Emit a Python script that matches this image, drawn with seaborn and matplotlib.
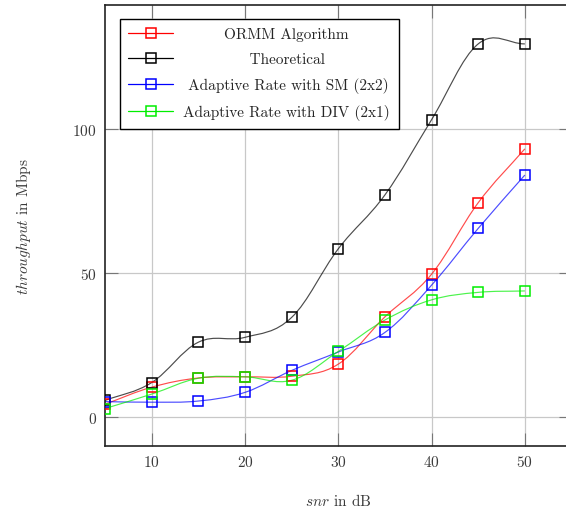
import numpy as np
import pandas as pd
import seaborn as sns
import matplotlib
matplotlib.use("Agg")
import matplotlib.pyplot as plt
from matplotlib.path import Path
from matplotlib.patches import PathPatch
from matplotlib.lines import Line2D

# ---- data ----
snr = [5, 10, 15, 20, 25, 30, 35, 40, 45, 50]
ormm = [4.5, 10.4, 13.6, 14.0, 14.2, 18.4, 34.8, 49.6, 74.4, 93.1]
theoretical = [5.8, 12.0, 26.0, 27.7, 34.6, 58.4, 77.1, 103.2, 129.5, 129.5]
adaptive_sm = [5.4, 5.2, 5.6, 8.6, 16.2, 22.6, 29.4, 45.8, 65.5, 84.0]
adaptive_div = [3.0, 8.0, 13.5, 14.0, 12.8, 22.8, 33.7, 40.7, 43.3, 43.8]
series_names = ["ORMM Algorithm", "Theoretical",
                "Adaptive Rate with SM (2x2)", "Adaptive Rate with DIV (2x1)"]
series_values = [ormm, theoretical, adaptive_sm, adaptive_div]
series_colors = ["#ff0000", "#000000", "#0000ff", "#00ee00"]
x_ticks = [10, 20, 30, 40, 50]
y_ticks = [0, 50, 100]

df = pd.DataFrame({
    "snr": snr * len(series_names),
    "throughput": sum(series_values, []),
    "series": sum([[n] * len(snr) for n in series_names], []),
})

sns.set_theme(style="ticks")
plt.rcParams["font.family"] = ["cmr10", "DejaVu Serif"]
plt.rcParams["mathtext.fontset"] = "cm"
plt.rcParams["axes.formatter.use_mathtext"] = True

W, H = 566, 510
fig = plt.figure(figsize=(W / 100, H / 100), dpi=100)
ax = fig.add_axes([105 / W, 1 - 447 / H, 466.5 / W, 441 / H])


def smooth_path(xs, ys, k=0.18):
    pts = np.column_stack([xs, ys]).astype(float)
    n = len(pts)
    tang = np.zeros_like(pts)
    for i in range(n):
        a = pts[max(i - 1, 0)]
        b = pts[min(i + 1, n - 1)]
        scale = k if 0 < i < n - 1 else 2 * k
        tang[i] = (b - a) * scale
    verts = [pts[0]]
    codes = [Path.MOVETO]
    for i in range(n - 1):
        verts += [pts[i] + tang[i], pts[i + 1] - tang[i + 1], pts[i + 1]]
        codes += [Path.CURVE4] * 3
    return Path(verts, codes)


for name, color in zip(series_names, series_colors):
    sub = df[df["series"] == name]
    ax.add_patch(PathPatch(smooth_path(sub["snr"].values, sub["throughput"].values),
                           facecolor="none", edgecolor=color, lw=0.85, alpha=0.7,
                           zorder=2))
    sns.lineplot(data=sub, x="snr", y="throughput", ax=ax, color=color,
                 linestyle="", marker="s", markersize=7.5, markerfacecolor="none",
                 markeredgecolor=color, markeredgewidth=1.1, zorder=3)

ax.set_xlim(5, 55)
ax.set_ylim(-10, 143)
ax.set_xticks(x_ticks)
ax.set_yticks(y_ticks)
ax.grid(True, color="#c8c8c8", lw=0.9)
ax.set_axisbelow(True)
for s in ax.spines.values():
    s.set_color("#222222")
    s.set_linewidth(1.2)
ax.tick_params(direction="in", length=9.5, width=0.8, top=True, right=True,
               labelsize=11, labelcolor="#3a3a3a", color="#777777", pad=6)
ax.set_xlabel(r"$snr$ in dB", fontsize=11, color="#3a3a3a", labelpad=16)
ax.set_ylabel(r"$throughput$ in Mbps", fontsize=11, color="#3a3a3a", labelpad=28)

handles = [Line2D([], [], color=c, lw=0.9, alpha=1, marker="s", markersize=7.5,
                  markerfacecolor="none", markeredgecolor=c, markeredgewidth=1.1)
           for c in series_colors]


def make_legend(labels):
    return ax.legend(handles, labels, loc="upper left",
                     bbox_to_anchor=(120 / W, 1 - 20 / H),
                     bbox_transform=fig.transFigure, fancybox=False,
                     edgecolor="black", framealpha=1, fontsize=11,
                     handlelength=2.9, handletextpad=0.7, labelspacing=0.72,
                     borderpad=0.55, borderaxespad=0)


leg = make_legend(series_names)
fig.canvas.draw()
r = fig.canvas.get_renderer()
widths = [t.get_window_extent(r).width for t in leg.get_texts()]
sp = ax.text(0, 0, "a a", fontsize=11)
sp_w = sp.get_window_extent(r).width
sp.set_text("aa")
sp_w -= sp.get_window_extent(r).width
sp.remove()
leg.remove()
mx = max(widths)
padded = [" " * int(round((mx - w) / 2 / sp_w)) + n for n, w in zip(series_names, widths)]
leg = make_legend(padded)
leg.get_frame().set_linewidth(1.0)

fig.savefig("out.png", dpi=100)
